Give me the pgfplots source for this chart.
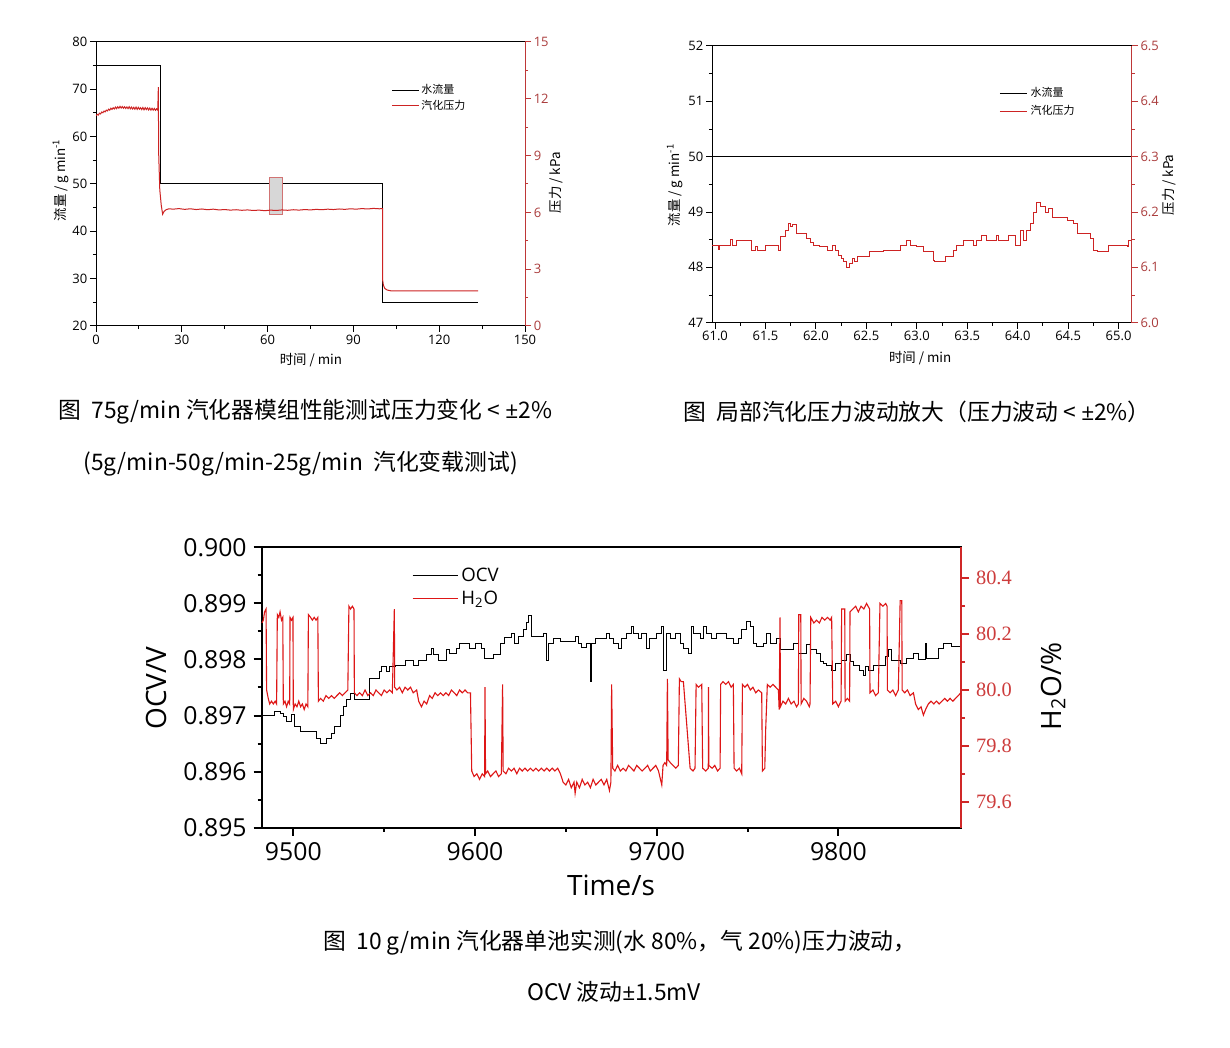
\documentclass[border=0pt]{standalone}
\usepackage{fontspec}
\setmainfont{Open Sans}
\newfontfamily\cjk{Noto Sans CJK SC}
\newfontfamily\tnr{Liberation Serif}
\usepackage{pgfplots}
\pgfplotsset{compat=1.18}

\definecolor{tred}{RGB}{205,35,35}
\definecolor{taxis}{RGB}{190,55,55}
\definecolor{tlab}{RGB}{170,60,60}
\definecolor{bred}{RGB}{222,22,22}
\definecolor{baxis}{RGB}{208,40,40}
\definecolor{blab}{RGB}{205,60,60}
\definecolor{boxgray}{RGB}{215,215,215}

\pgfplotsset{
  small/.style={
    scale only axis, tick align=outside,
    major tick length=3pt, minor tick length=1.6pt,
    /pgf/number format/assume math mode=true,
    ticklabel style={font=\fontsize{6.5}{7}\selectfont, inner sep=1.2pt},
    label style={font=\cjk\fontsize{6.7}{8}\selectfont},
    axis line style={line width=0.5pt},
    legend style={draw=none, fill=none, inner sep=0pt,
      font=\cjk\fontsize{5.5}{6}\selectfont, nodes={inner sep=0.9pt},
      cells={anchor=west}},
    legend image code/.code={\draw[##1] (0pt,0pt) -- (13.5pt,0pt);},
  },
  big/.style={
    scale only axis, tick align=outside,
    major tick length=4pt, minor tick length=2pt,
    /pgf/number format/assume math mode=true,
    /pgf/number format/1000 sep={},
    ticklabel style={font=\fontsize{12.4}{14}\selectfont},
    label style={font=\fontsize{14}{16}\selectfont},
    axis line style={line width=1pt},
  },
}

\begin{document}
\begin{tikzpicture}
\path[use as bounding box, fill=white] (0,0) rectangle (615pt,524pt);

% ---------- top left: 75 g/min module ----------
\begin{axis}[small, at={(48pt,361pt)}, anchor=south west,
  width=214.5pt, height=142pt,
  xmin=0, xmax=150, ymin=20, ymax=80,
  xtick={0,30,60,90,120,150}, ytick={20,30,40,50,60,70,80},
  minor x tick num=1, minor y tick num=1, tick pos=left,
  tick style={black, line width=0.5pt},
  xlabel={时间 / min}, ylabel={流量 / g min\textsuperscript{-1}},
  xlabel style={at={(axis description cs:0.501,-0.12)}, anchor=center},
  ylabel style={at={(axis description cs:-0.082,0.514)}, anchor=center},
]
\addplot[black, line width=0.5pt] coordinates {(0,75) (22.7,75) (22.7,50) (100.2,50) (100.2,25) (133.6,25)};
\addplot[fill=boxgray, draw=taxis!70, line width=0.4pt] coordinates {(60.8,51.3) (65,51.3) (65,43.5) (60.8,43.5)} -- cycle;
\end{axis}
\begin{axis}[small, at={(48pt,361pt)}, anchor=south west,
  width=214.5pt, height=142pt,
  xmin=0, xmax=150, ymin=0, ymax=15,
  axis x line=none, axis y line*=right,
  ytick={0,3,6,9,12,15}, minor y tick num=1,
  y axis line style={taxis, line width=0.5pt},
  tick style={taxis, line width=0.5pt},
  yticklabel style={text=tlab},
  ylabel={压力 / kPa},
  ylabel style={at={(axis description cs:1.072,0.504)}, anchor=center},
  legend style={at={(axis description cs:0.688,0.86)}, anchor=north west},
]
\addlegendimage{black, line width=0.5pt}
\addlegendentry{水流量}
\addplot[tred, line width=0.5pt] coordinates {
(0.0,11.10) (0.4,11.18) (0.8,11.14) (1.2,11.24) (1.6,11.20) (2.0,11.30) (2.4,11.26) (2.8,11.35)
(3.2,11.31) (3.6,11.40) (4.0,11.36) (4.4,11.45) (4.8,11.40) (5.2,11.50) (5.6,11.44) (6.0,11.53)
(6.4,11.46) (6.8,11.56) (7.2,11.48) (7.6,11.58) (8.0,11.50) (8.4,11.60) (8.8,11.51) (9.2,11.59)
(9.6,11.50) (10.0,11.58) (10.4,11.49) (10.8,11.57) (11.2,11.48) (11.6,11.58) (12.0,11.47) (12.4,11.56)
(12.8,11.46) (13.2,11.55) (13.6,11.45) (14.0,11.56) (14.4,11.44) (14.8,11.55) (15.2,11.45) (15.6,11.53)
(16.0,11.43) (16.4,11.54) (16.8,11.42) (17.2,11.53) (17.6,11.43) (18.0,11.52) (18.4,11.41) (18.8,11.51)
(19.2,11.40) (19.6,11.50) (20.0,11.40) (20.4,11.49) (20.8,11.39) (21.2,11.47) (21.6,11.40)
(21.8,12.62) (21.9,9.20) (22.3,7.20) (22.8,6.40) (23.3,5.90) (23.8,6.05) (24.5,6.14) (25.5,6.19)
(27,6.17) (29,6.20) (31,6.16) (33,6.19) (35,6.15) (37,6.18) (39,6.14) (41,6.17) (43,6.13) (45,6.15)
(47,6.12) (49,6.14) (51,6.11) (53,6.13) (55,6.10) (57,6.12) (59,6.09) (61,6.12) (63,6.10) (65,6.13)
(67,6.11) (69,6.14) (71,6.12) (73,6.15) (75,6.13) (77,6.16) (79,6.14) (81,6.17) (83,6.15) (85,6.18)
(87,6.16) (89,6.19) (91,6.17) (93,6.20) (95,6.18) (97,6.21) (99,6.19) (100.2,6.20)
(100.25,2.40) (100.5,2.15) (101.0,1.98) (101.8,1.90) (103,1.86) (133.6,1.86)};
\addlegendentry{汽化压力}
\end{axis}

% ---------- top right: zoom 61-65 min ----------
\begin{axis}[small, at={(356pt,362.65pt)}, anchor=south west,
  width=209.85pt, height=138.35pt,
  xmin=60.97, xmax=65.13, ymin=47, ymax=52,
  xtick={61,61.5,62,62.5,63,63.5,64,64.5,65}, ytick={47,48,49,50,51,52},
  xticklabel style={/pgf/number format/.cd, fixed, fixed zerofill, precision=1},
  minor x tick num=1, minor y tick num=1, tick pos=left,
  tick style={black, line width=0.5pt},
  xlabel={时间 / min}, ylabel={流量 / g min\textsuperscript{-1}},
  xlabel style={at={(axis description cs:0.496,-0.128)}, anchor=center},
  ylabel style={at={(axis description cs:-0.088,0.498)}, anchor=center},
]
\addplot[black, line width=0.5pt] coordinates {(60.97,50) (65.13,50)};
\end{axis}
\begin{axis}[small, at={(356pt,362.65pt)}, anchor=south west,
  width=209.85pt, height=138.35pt,
  xmin=60.97, xmax=65.13, ymin=6.0, ymax=6.5,
  axis x line=none, axis y line*=right,
  ytick={6.0,6.1,6.2,6.3,6.4,6.5}, minor y tick num=1,
  yticklabel style={text=tlab, /pgf/number format/.cd, fixed, fixed zerofill, precision=1},
  y axis line style={taxis, line width=0.5pt},
  tick style={taxis, line width=0.5pt},
  ylabel={压力 / kPa},
  ylabel style={at={(axis description cs:1.09,0.498)}, anchor=center},
  legend style={at={(axis description cs:0.684,0.865)}, anchor=north west,
    nodes={inner sep=1.6pt}},
]
\addlegendimage{black, line width=0.5pt}
\addlegendentry{水流量}
\addplot[tred, line width=0.5pt, const plot] coordinates {
(60.97,6.140) (61.03,6.133) (61.04,6.140) (61.15,6.150) (61.17,6.140) (61.215,6.148) (61.36,6.131)
(61.40,6.137) (61.42,6.131) (61.50,6.140) (61.63,6.131) (61.645,6.155) (61.695,6.167) (61.73,6.180)
(61.745,6.173) (61.77,6.178) (61.81,6.161) (61.91,6.152) (61.95,6.145) (61.98,6.140) (62.04,6.137)
(62.11,6.131) (62.16,6.140) (62.19,6.130) (62.225,6.122) (62.25,6.116) (62.275,6.110) (62.30,6.099)
(62.33,6.107) (62.36,6.116) (62.38,6.110) (62.41,6.119) (62.53,6.128) (62.67,6.131) (62.84,6.140)
(62.90,6.148) (62.94,6.140) (63.00,6.137) (63.07,6.128) (63.166,6.113) (63.18,6.110) (63.282,6.119)
(63.364,6.131) (63.397,6.140) (63.463,6.148) (63.563,6.140) (63.596,6.148) (63.645,6.158) (63.695,6.149)
(63.794,6.158) (63.811,6.148) (63.91,6.158) (63.976,6.140) (64.026,6.167) (64.059,6.149) (64.092,6.167)
(64.125,6.180) (64.158,6.200) (64.191,6.218) (64.224,6.210) (64.274,6.200) (64.307,6.206) (64.34,6.190)
(64.489,6.185) (64.555,6.180) (64.588,6.161) (64.72,6.152) (64.753,6.131) (64.786,6.129) (64.902,6.140)
(65.084,6.137) (65.10,6.148) (65.133,6.148)};
\addlegendentry{汽化压力}
\end{axis}

% ---------- bottom: OCV and H2O ----------
\begin{axis}[big, at={(130.85pt,110.15pt)}, anchor=south west,
  width=349.65pt, height=140.2pt,
  xmin=9482.6, xmax=9867.5, ymin=0.895, ymax=0.900,
  xtick={9500,9600,9700,9800},
  ytick={0.895,0.896,0.897,0.898,0.899,0.900},
  yticklabel style={/pgf/number format/.cd, fixed, fixed zerofill, precision=3},
  minor x tick num=1, minor y tick num=1, tick pos=left,
  tick style={black, line width=1pt},
  xlabel={Time/s}, ylabel={OCV/V},
  xlabel style={at={(axis description cs:0.4995,-0.204)}, anchor=center},
  ylabel style={at={(axis description cs:-0.151,0.498)}, anchor=center},
]
\addplot[black, line width=0.5pt, const plot] coordinates {
(9482.6,0.89700) (9489.9,0.89707) (9492.7,0.89704) (9494.5,0.89698) (9496.3,0.89689) (9499.1,0.89701)
(9500.9,0.89680) (9503.7,0.89671) (9512.8,0.89659) (9514.7,0.89650) (9518.3,0.89659) (9521.1,0.89668)
(9522.9,0.89680) (9525.7,0.89700) (9527.5,0.89716) (9529.4,0.89728) (9531.2,0.89740) (9533.9,0.89729)
(9542.2,0.89766) (9547.7,0.89778) (9548.6,0.89787) (9551.4,0.89778) (9553.2,0.89787) (9556.0,0.89790)
(9561.5,0.89799) (9566.1,0.89790) (9568.8,0.89799) (9573.4,0.89808) (9576.1,0.89820) (9577.1,0.89808)
(9579.8,0.89799) (9584.4,0.89817) (9586.2,0.89810) (9589.9,0.89820) (9591.7,0.89829) (9597.2,0.89820)
(9600.0,0.89829) (9603.7,0.89820) (9605.5,0.89802) (9610.1,0.89808) (9613.8,0.89829) (9616.5,0.89839)
(9620.2,0.89847) (9622.0,0.89829) (9623.9,0.89841) (9626.6,0.89853) (9628.4,0.89866) (9629.4,0.89878)
(9631.2,0.89841) (9637.6,0.89847) (9639.4,0.89799) (9640.4,0.89829) (9643.1,0.89838) (9646.8,0.89832)
(9655.1,0.89841) (9656.9,0.89829) (9658.7,0.89822) (9661.5,0.89829) (9663.3,0.89760) (9664.2,0.89829)
(9666.1,0.89838) (9672.5,0.89847) (9674.3,0.89838) (9676.2,0.89829) (9678.9,0.89820) (9680.7,0.89838)
(9683.5,0.89847) (9686.2,0.89859) (9687.2,0.89847) (9689.9,0.89838) (9691.8,0.89847) (9694.5,0.89820)
(9696.3,0.89838) (9700.0,0.89847) (9702.8,0.89859) (9703.7,0.89781) (9705.5,0.89847) (9707.4,0.89838)
(9710.1,0.89847) (9712.9,0.89829) (9714.7,0.89820) (9717.4,0.89811) (9719.3,0.89859) (9720.2,0.89847)
(9723.9,0.89838) (9725.7,0.89859) (9727.5,0.89847) (9730.3,0.89838) (9733.0,0.89847) (9738.5,0.89838)
(9742.2,0.89829) (9745.0,0.89838) (9746.8,0.89853) (9749.6,0.89867) (9751.4,0.89859) (9753.2,0.89829)
(9755.1,0.89823) (9758.7,0.89829) (9760.6,0.89847) (9762.4,0.89829) (9766.1,0.89838) (9767.9,0.89817)
(9775.2,0.89829) (9778.0,0.89811) (9782.6,0.89826) (9784.4,0.89817) (9788.1,0.89811) (9789.9,0.89796)
(9791.8,0.89793) (9793.6,0.89790) (9796.3,0.89781) (9798.2,0.89793) (9801.8,0.89799) (9804.6,0.89808)
(9806.4,0.89796) (9808.3,0.89790) (9811.9,0.89781) (9813.8,0.89772) (9814.7,0.89787) (9816.5,0.89781)
(9819.3,0.89790) (9825.7,0.89805) (9827.5,0.89817) (9829.4,0.89799) (9834.0,0.89793) (9837.6,0.89802)
(9841.3,0.89811) (9844.0,0.89800) (9847.7,0.89829) (9848.6,0.89802) (9855.0,0.89820) (9857.8,0.89829)
(9862.4,0.89823) (9867.4,0.89823)};
\end{axis}
\begin{axis}[big, at={(130.85pt,110.15pt)}, anchor=south west,
  width=349.65pt, height=140.2pt,
  xmin=9482.6, xmax=9867.5, ymin=79.507, ymax=80.511,
  axis x line=none, axis y line*=right,
  ytick={79.6,79.8,80.0,80.2,80.4}, minor y tick num=1,
  yticklabel={\tnr\fontsize{10.2}{11}\selectfont\pgfmathprintnumber[fixed,fixed zerofill,precision=1]{\tick}},
  yticklabel style={text=blab},
  y axis line style={baxis, line width=1pt},
  tick style={baxis, line width=1pt},
  ylabel={H\textsubscript{2}O/\%},
  ylabel style={at={(axis description cs:1.1316,0.505)}, anchor=center},
  legend style={draw=none, fill=none, inner sep=0pt, at={(axis description cs:0.2145,0.94)},
    anchor=north west, font=\fontsize{9.3}{10}\selectfont, nodes={inner sep=1.6pt},
    cells={anchor=west}},
  legend image code/.code={\draw[#1] (0pt,0pt) -- (22.5pt,0pt);},
]
\addlegendimage{black, line width=0.5pt}
\addlegendentry{OCV}
\addplot[bred, line width=0.55pt] coordinates {
(9482.7,80.24) (9483.5,80.25) (9484.2,80.28) (9485.0,80.29) (9485.3,80.00) (9485.6,79.99) (9486.2,79.97)
(9487.0,79.95) (9488.0,79.96) (9489.0,79.95) (9490.0,79.96) (9490.8,79.95) (9491.2,80.27) (9492.0,80.26)
(9492.7,80.28) (9493.5,80.25) (9494.2,80.26) (9494.5,79.95) (9495.4,79.96) (9496.3,79.94) (9497.2,79.96)
(9498.0,79.95) (9498.2,80.26) (9499.0,80.25) (9499.8,80.26) (9500.0,79.93) (9501.0,79.95) (9502.0,79.94)
(9503.0,79.96) (9504.0,79.94) (9505.0,79.95) (9506.0,79.93) (9507.0,79.95) (9508.0,79.94) (9508.3,80.27)
(9509.5,80.26) (9510.5,80.25) (9511.5,80.26) (9512.5,80.25) (9513.5,80.26) (9513.8,79.96) (9515.0,79.97)
(9516.5,79.96) (9518.0,79.98) (9519.5,79.97) (9521.0,79.98) (9522.5,79.97) (9524.0,79.98) (9525.5,79.99)
(9527.0,79.98) (9528.5,79.99) (9530.0,80.00) (9530.6,80.30) (9531.5,80.29) (9532.5,80.30) (9533.4,80.29)
(9533.6,79.99) (9535.0,79.98) (9536.5,79.99) (9538.0,79.98) (9539.5,80.00) (9541.0,79.98) (9542.5,79.99)
(9544.0,79.98) (9545.5,80.00) (9547.0,79.99) (9548.5,79.98) (9550.0,80.00) (9551.5,79.99) (9553.0,80.00)
(9554.5,79.99) (9555.6,80.29) (9555.8,80.01) (9557.0,80.00) (9558.5,80.01) (9560.0,79.99) (9561.5,80.01)
(9563.0,80.00) (9564.5,80.01) (9566.0,79.99) (9567.9,80.00) (9569.0,79.96) (9570.5,79.94) (9572.0,79.96)
(9573.4,79.95) (9575.0,79.98) (9576.5,79.97) (9578.0,79.99) (9579.5,79.98) (9581.0,79.99) (9582.5,79.98)
(9584.0,79.99) (9585.5,79.98) (9587.0,80.00) (9588.5,79.99) (9590.0,79.98) (9591.5,80.00) (9593.0,79.99)
(9594.5,80.00) (9596.0,79.99) (9597.5,79.99) (9598.2,79.71) (9599.5,79.69) (9601.0,79.70) (9602.5,79.68)
(9604.0,79.70) (9605.3,79.69) (9605.5,80.01) (9605.8,79.70) (9607.0,79.71) (9608.5,79.69) (9610.0,79.70)
(9611.5,79.71) (9613.0,79.69) (9614.5,79.70) (9615.2,80.02) (9615.5,79.71) (9617.0,79.70) (9618.5,79.72)
(9620.0,79.71) (9621.5,79.72) (9623.0,79.70) (9624.5,79.72) (9626.0,79.71) (9627.5,79.72) (9629.0,79.71)
(9630.5,79.72) (9632.0,79.71) (9633.5,79.72) (9635.0,79.71) (9636.5,79.72) (9638.0,79.71) (9639.5,79.72)
(9641.0,79.71) (9642.5,79.72) (9644.0,79.71) (9645.5,79.72) (9647.0,79.70) (9648.5,79.67) (9650.0,79.66)
(9651.5,79.68) (9653.0,79.65) (9654.5,79.67) (9655.1,79.63) (9656.0,79.67) (9657.5,79.65) (9659.0,79.68)
(9660.5,79.66) (9662.0,79.67) (9663.5,79.65) (9665.0,79.68) (9666.5,79.66) (9668.0,79.67) (9669.5,79.68)
(9671.0,79.66) (9672.5,79.68) (9674.0,79.64) (9674.8,79.67) (9675.2,80.02) (9675.8,79.72) (9677.0,79.71)
(9678.5,79.73) (9680.0,79.71) (9681.5,79.72) (9683.0,79.71) (9684.5,79.73) (9686.0,79.72) (9687.5,79.71)
(9689.0,79.73) (9690.5,79.72) (9692.0,79.71) (9693.5,79.72) (9695.0,79.73) (9696.5,79.71) (9698.0,79.72)
(9699.5,79.73) (9701.0,79.71) (9702.8,79.66) (9703.5,79.73) (9704.5,79.74) (9705.5,79.73) (9705.9,80.04)
(9706.3,79.75) (9707.5,79.74) (9709.0,79.73) (9710.5,79.72) (9711.9,79.73) (9712.5,80.04) (9713.5,80.03)
(9714.7,80.03) (9718.4,79.72) (9720.0,79.71) (9721.1,79.72) (9721.7,80.02) (9723.0,80.01) (9724.8,80.02)
(9725.3,79.72) (9727.0,79.71) (9728.4,79.72) (9728.5,80.01) (9728.7,79.73) (9730.5,79.72) (9732.0,79.73)
(9733.5,79.71) (9734.9,79.72) (9735.2,80.02) (9736.5,80.03) (9738.0,80.02) (9739.5,80.03) (9741.0,80.01)
(9742.2,80.02) (9742.6,79.72) (9744.0,79.71) (9745.5,79.72) (9746.8,79.70) (9747.2,80.02) (9748.5,80.01)
(9750.0,80.02) (9751.5,80.00) (9753.0,80.01) (9754.5,79.99) (9756.0,80.00) (9757.8,79.99) (9758.2,79.71)
(9759.5,79.72) (9760.0,79.86) (9760.9,80.02) (9762.5,80.01) (9764.0,80.02) (9765.5,80.01) (9767.0,80.00)
(9767.4,79.93) (9767.9,80.26) (9768.1,79.94) (9769.5,79.96) (9771.0,79.95) (9772.5,79.97) (9774.0,79.95)
(9775.5,79.96) (9777.0,79.94) (9778.0,79.95) (9778.2,80.27) (9779.3,80.27) (9779.5,79.95) (9781.0,79.97)
(9782.5,79.96) (9784.0,79.94) (9784.4,79.95) (9784.8,80.26) (9786.5,80.24) (9788.0,80.25) (9789.5,80.24)
(9791.0,80.26) (9792.5,80.25) (9794.0,80.26) (9795.5,80.25) (9796.3,80.26) (9796.9,79.95) (9798.5,79.96)
(9800.0,79.94) (9801.5,79.96) (9801.8,80.29) (9803.5,80.29) (9803.7,79.96) (9805.0,79.97) (9806.2,79.96)
(9806.4,80.28) (9808.0,80.29) (9809.5,80.30) (9811.0,80.28) (9812.5,80.30) (9814.0,80.29) (9815.5,80.31)
(9817.2,80.29) (9817.4,79.99) (9819.0,80.00) (9820.5,79.98) (9822.0,79.99) (9822.9,80.31) (9824.5,80.30)
(9826.0,80.31) (9826.8,80.30) (9827.0,80.00) (9828.5,79.99) (9830.0,80.00) (9831.5,79.98) (9833.0,80.00)
(9834.0,80.32) (9834.9,80.32) (9835.1,80.00) (9836.5,79.99) (9838.0,80.00) (9839.5,79.98) (9841.3,79.99)
(9842.5,79.95) (9844.0,79.93) (9845.5,79.94) (9846.8,79.91) (9848.0,79.93) (9849.5,79.95) (9851.0,79.96)
(9852.5,79.95) (9854.0,79.96) (9855.5,79.95) (9857.0,79.96) (9858.5,79.97) (9860.0,79.96) (9861.5,79.97)
(9863.0,79.96) (9864.5,79.97) (9866.0,79.98) (9867.4,79.99)};
\addlegendentry{H\textsubscript{2}O}
\end{axis}

% ---------- captions ----------
\begin{scope}[every node/.style={font=\cjk\fontsize{11.4}{13}\selectfont, inner sep=0pt}]
\node[anchor=west] at (29pt,318pt) {图\ \ 75g/min 汽化器模组性能测试压力变化 < \textrm{±}2\%};
\node[anchor=west] at (41.5pt,292pt) {(5g/min-50g/min-25g/min\ \ 汽化变载测试)};
\node[anchor=west] at (341.5pt,318pt) {图\ \ 局部汽化压力波动放大（压力波动 < \textrm{±}2\%）};
\node at (310pt,52.5pt) {图\ \ 10 g/min 汽化器单池实测(水 80\%，气 20\%)压力波动，};
\node at (307pt,28pt) {OCV 波动\textrm{±}1.5mV};
\end{scope}
\end{tikzpicture}
\end{document}
